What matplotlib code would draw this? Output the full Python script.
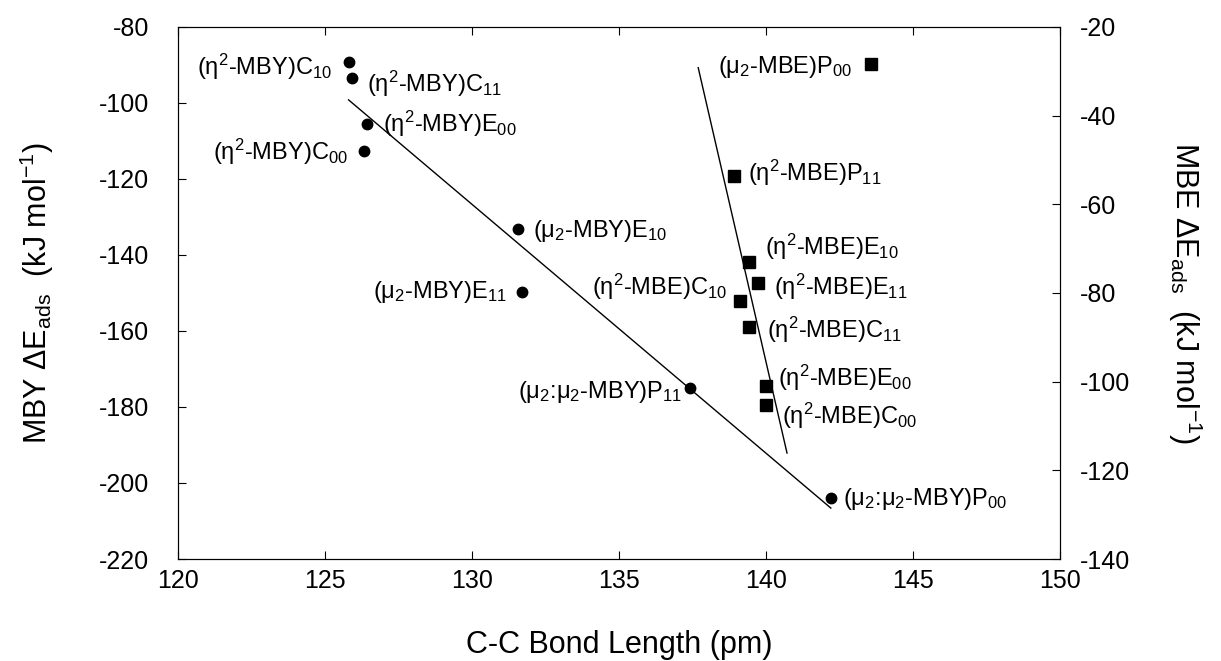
import matplotlib
matplotlib.use("Agg")
import matplotlib.pyplot as plt

plt.rcParams["font.family"] = ["Liberation Sans", "DejaVu Sans"]
plt.rcParams["mathtext.fontset"] = "custom"
plt.rcParams["mathtext.rm"] = "Liberation Sans"
plt.rcParams["mathtext.it"] = "Liberation Sans:italic"
plt.rcParams["axes.unicode_minus"] = False

# MBY adsorption energies (left axis)
mby_x = [125.82, 125.9, 126.42, 126.33, 131.57, 131.71, 137.41, 142.2]
mby_y = [-89.2, -93.5, -105.6, -112.6, -133.2, -149.8, -175.1, -203.9]
mby_labels = [
    "(η$^2$-MBY)C$_{10}$",
    "(η$^2$-MBY)C$_{11}$",
    "(η$^2$-MBY)E$_{00}$",
    "(η$^2$-MBY)C$_{00}$",
    "(μ$_2$-MBY)E$_{10}$",
    "(μ$_2$-MBY)E$_{11}$",
    "(μ$_2$:μ$_2$-MBY)P$_{11}$",
    "(μ$_2$:μ$_2$-MBY)P$_{00}$",
]
mby_fit_x = [125.8, 142.2]
mby_fit_y = [-99.2, -206.6]

# MBE adsorption energies (right axis)
mbe_x = [143.57, 138.92, 139.42, 139.72, 139.12, 139.42, 140.0, 140.0]
mbe_y = [-28.4, -53.6, -73.1, -77.8, -81.8, -87.6, -100.9, -105.2]
mbe_labels = [
    "(μ$_2$-MBE)P$_{00}$",
    "(η$^2$-MBE)P$_{11}$",
    "(η$^2$-MBE)E$_{10}$",
    "(η$^2$-MBE)E$_{11}$",
    "(η$^2$-MBE)C$_{10}$",
    "(η$^2$-MBE)C$_{11}$",
    "(η$^2$-MBE)E$_{00}$",
    "(η$^2$-MBE)C$_{00}$",
]
mbe_fit_x = [137.69, 140.71]
mbe_fit_y = [-29.2, -116.1]

# label placement: (ha, dx px, dy px to baseline, image coords)
mby_pos = [("right", -17, 13), ("left", 15, 14), ("left", 16, 8), ("right", -16, 9),
           ("left", 15, 8), ("right", -15, 6), ("right", -8, 10), ("left", 12, 7)]
mbe_pos = [("right", -19, 9), ("left", 14, 5), ("left", 16, -7), ("left", 16, 12),
           ("right", -13, -6), ("left", 18, 11), ("left", 12, 0), ("left", 16, 19)]

fig = plt.figure(figsize=(12.21, 6.61), dpi=100)
ax = fig.add_axes([0.1458, 0.1543, 0.7225, 0.805])
ax2 = ax.twinx()

ax.plot(mby_x, mby_y, "o", color="black", markersize=7.5, zorder=3)
ax.plot(mby_fit_x, mby_fit_y, "-", color="black", linewidth=1.0)
ax2.plot(mbe_x, mbe_y, "s", color="black", markersize=8, zorder=3)
ax2.plot(mbe_fit_x, mbe_fit_y, "-", color="black", linewidth=1.0)

for a, xs, ys, labels, pos in [(ax, mby_x, mby_y, mby_labels, mby_pos),
                               (ax2, mbe_x, mbe_y, mbe_labels, mbe_pos)]:
    for x, y, lab, (ha, dx, dy) in zip(xs, ys, labels, pos):
        a.annotate(lab, (x, y), xytext=(dx * 0.72, -dy * 0.72),
                   textcoords="offset points", ha=ha, va="baseline", fontsize=17)

ax.set_xlim(120, 150)
ax.set_ylim(-220, -80)
ax2.set_ylim(-140, -20)
ax.set_xticks(range(120, 151, 5))
ax.set_yticks(range(-220, -79, 20))
ax2.set_yticks(range(-140, -19, 20))

ax.tick_params(axis="x", direction="in", top=True, length=6, labelsize=18, pad=7)
ax.tick_params(axis="y", direction="in", length=6, labelsize=18, pad=21)
ax2.tick_params(axis="y", direction="in", length=6, labelsize=18, pad=14)

ax.set_xlabel("C-C Bond Length (pm)", fontsize=22, labelpad=27)
ax.set_ylabel("MBY ΔE$_\\mathrm{ads}$  (kJ mol$^{-1}$)", fontsize=22, labelpad=31)
ax2.set_ylabel("MBE ΔE$_\\mathrm{ads}$  (kJ mol$^{-1}$)", fontsize=22, rotation=270,
               va="bottom", labelpad=26)

fig.savefig("out.png", dpi=100)
